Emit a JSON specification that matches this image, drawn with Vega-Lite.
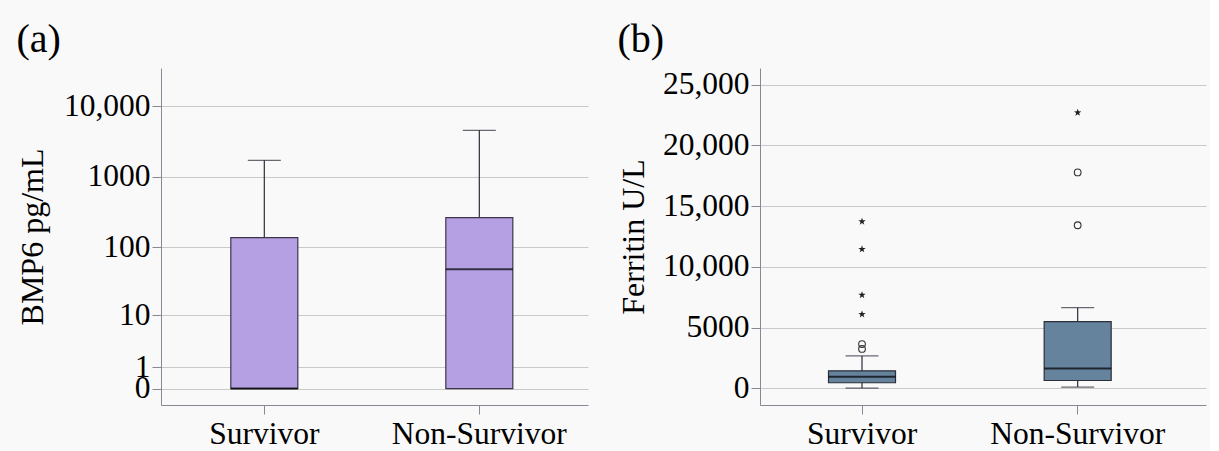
{
  "$schema": "https://vega.github.io/schema/vega-lite/v6.json",
  "background": "#f9f9f9",
  "padding": {"left": 16, "top": 20, "right": 4, "bottom": 2},
  "spacing": 29,
  "config": {
    "font": "Liberation Serif",
    "view": {"stroke": null},
    "axis": {
      "labelFont": "Liberation Serif", "titleFont": "Liberation Serif",
      "labelFontSize": 31.5, "titleFontSize": 32,
      "labelColor": "#000", "titleColor": "#000", "titleFontWeight": "normal",
      "domainColor": "#8a8796", "tickColor": "#8a8796", "gridColor": "#c9c9c9",
      "tickSize": 9, "labelPadding": 2, "labelOverlap": false
    },
    "title": {"font": "Liberation Serif", "fontSize": 40, "fontWeight": "normal", "anchor": "start", "frame": "bounds", "color": "#000"}
  },
  "datasets": {
    "bmp": [
      {"group": "Survivor", "lower": 0, "q1": 0, "median": 0, "q3": 137, "upper": 1720},
      {"group": "Non-Survivor", "lower": 0, "q1": 0, "median": 48, "q3": 265, "upper": 4575}
    ],
    "fer": [
      {"group": "Survivor", "lower": 30, "q1": 470, "median": 960, "q3": 1450, "upper": 2680},
      {"group": "Non-Survivor", "lower": 115, "q1": 655, "median": 1640, "q3": 5500, "upper": 6650}
    ],
    "ferOut": [
      {"group": "Survivor", "value": 13735, "kind": "extreme"},
      {"group": "Survivor", "value": 11460, "kind": "extreme"},
      {"group": "Survivor", "value": 7690, "kind": "extreme"},
      {"group": "Survivor", "value": 6100, "kind": "extreme"},
      {"group": "Survivor", "value": 3650, "kind": "outlier"},
      {"group": "Survivor", "value": 3250, "kind": "outlier"},
      {"group": "Non-Survivor", "value": 22700, "kind": "extreme"},
      {"group": "Non-Survivor", "value": 17780, "kind": "outlier"},
      {"group": "Non-Survivor", "value": 13430, "kind": "outlier"}
    ]
  },
  "hconcat": [
    {
      "title": {"text": "(a)", "offset": 8},
      "width": 427,
      "height": 337,
      "data": {"name": "bmp"},
      "encoding": {
        "x": {
          "field": "group", "type": "nominal", "sort": ["Survivor", "Non-Survivor"],
          "scale": {"paddingInner": 0.039, "paddingOuter": 0.0125, "align": 0},
          "axis": {"title": null, "labelAngle": 0, "grid": false, "labelPadding": 4}
        }
      },
      "layer": [
        {
          "mark": {"type": "rule", "color": "#2e2a38", "strokeWidth": 1.2},
          "encoding": {
            "y": {
              "field": "lower", "type": "quantitative", "title": "BMP6 pg/mL",
              "scale": {"type": "symlog", "constant": 1, "domain": [-0.7066, 35000], "nice": false, "zero": false},
              "axis": {
                "values": [0, 1, 10, 100, 1000, 10000], "grid": true, "titlePadding": 14,
                "labelExpr": "datum.value == 10000 ? '10,000' : format(datum.value, 'd')"
              }
            },
            "y2": {"field": "upper"}
          }
        },
        {
          "mark": {"type": "bar", "fill": "#b4a0e2", "stroke": "#3d3549", "strokeWidth": 1.2, "width": 67},
          "encoding": {
            "y": {"field": "q1", "type": "quantitative", "title": "BMP6 pg/mL"},
            "y2": {"field": "q3"}
          }
        },
        {
          "mark": {"type": "tick", "color": "#000", "thickness": 2, "size": 67},
          "encoding": {"y": {"field": "median", "type": "quantitative", "title": "BMP6 pg/mL"}}
        },
        {
          "mark": {"type": "tick", "color": "#2e2a38", "thickness": 1.2, "size": 33},
          "encoding": {"y": {"field": "upper", "type": "quantitative", "title": "BMP6 pg/mL"}}
        }
      ]
    },
    {
      "title": {"text": "(b)", "offset": 8},
      "width": 446,
      "height": 337,
      "encoding": {
        "x": {
          "field": "group", "type": "nominal", "sort": ["Survivor", "Non-Survivor"],
          "scale": {"paddingInner": 0.054, "paddingOuter": 0.061, "align": 0},
          "axis": {"title": null, "labelAngle": 0, "grid": false, "labelPadding": 4}
        }
      },
      "layer": [
        {
          "data": {"name": "fer"},
          "mark": {"type": "rule", "color": "#2e2a38", "strokeWidth": 1.2},
          "encoding": {
            "y": {
              "field": "lower", "type": "quantitative", "title": "Ferritin U/L",
              "scale": {"domain": [-1362, 26370], "nice": false, "zero": false},
              "axis": {
                "values": [0, 5000, 10000, 15000, 20000, 25000], "grid": true, "titlePadding": 12,
                "labelExpr": "datum.value >= 10000 ? format(datum.value, ',') : format(datum.value, 'd')"
              }
            },
            "y2": {"field": "upper"}
          }
        },
        {
          "data": {"name": "fer"},
          "mark": {"type": "bar", "fill": "#66839d", "stroke": "#2a2f3a", "strokeWidth": 1.2, "width": 67},
          "encoding": {
            "y": {"field": "q1", "type": "quantitative", "title": "Ferritin U/L"},
            "y2": {"field": "q3"}
          }
        },
        {
          "data": {"name": "fer"},
          "mark": {"type": "tick", "color": "#000", "thickness": 2, "size": 67},
          "encoding": {"y": {"field": "median", "type": "quantitative", "title": "Ferritin U/L"}}
        },
        {
          "data": {"name": "fer"},
          "mark": {"type": "tick", "color": "#2e2a38", "thickness": 1.2, "size": 33},
          "encoding": {"y": {"field": "upper", "type": "quantitative", "title": "Ferritin U/L"}}
        },
        {
          "data": {"name": "fer"},
          "mark": {"type": "tick", "color": "#2e2a38", "thickness": 1.2, "size": 33},
          "encoding": {"y": {"field": "lower", "type": "quantitative", "title": "Ferritin U/L"}}
        },
        {
          "data": {"name": "ferOut"},
          "transform": [{"filter": "datum.kind == 'extreme'"}],
          "mark": {"type": "point", "shape": "M0,-1L0.235,-0.324L0.951,-0.309L0.38,0.124L0.588,0.809L0,0.4L-0.588,0.809L-0.38,0.124L-0.951,-0.309L-0.235,-0.324Z", "filled": true, "color": "#222", "size": 60, "opacity": 1},
          "encoding": {"y": {"field": "value", "type": "quantitative", "title": "Ferritin U/L"}}
        },
        {
          "data": {"name": "ferOut"},
          "transform": [{"filter": "datum.kind == 'outlier'"}],
          "mark": {"type": "point", "shape": "circle", "filled": false, "color": "#333", "strokeWidth": 1.1, "size": 45, "opacity": 1},
          "encoding": {"y": {"field": "value", "type": "quantitative", "title": "Ferritin U/L"}}
        }
      ]
    }
  ]
}
